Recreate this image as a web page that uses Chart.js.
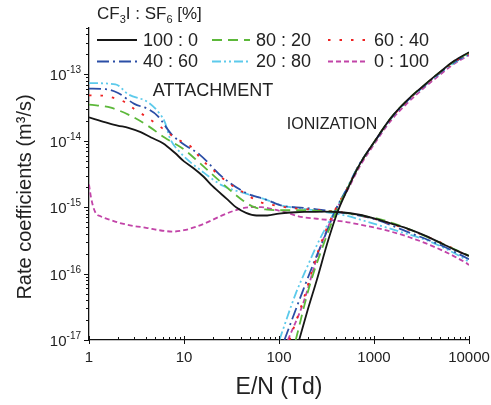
<!DOCTYPE html>
<html>
<head>
<meta charset="utf-8">
<script src="https://cdn.jsdelivr.net/npm/chart.js@4/dist/chart.umd.min.js"></script>
<style>
  html, body { margin: 0; padding: 0; background: #fff; }
  canvas { display: block; }
</style>
</head>
<body>
<canvas id="rateChart" width="491" height="405"></canvas>
<script>
// CF3I : SF6 mixtures, attachment and ionization rate coefficients (m3/s) vs E/N (Td)
const mixtures = ["100 : 0", "80 : 20", "60 : 40", "40 : 60", "20 : 80", "0 : 100"];

const attE100 = [1, 1.5, 2, 2.6, 3.5, 4.5, 6, 8, 10, 12.5, 16, 20, 28, 36, 45, 58, 75, 100, 150, 200, 300, 450, 700, 1000, 1500, 2400, 3500, 5000, 7000, 10000];
const attK100 = [2.25e-14, 1.9e-14, 1.7e-14, 1.57e-14, 1.35e-14, 1.12e-14, 9.2e-15, 6.6e-15, 4.9e-15, 3.9e-15, 2.9e-15, 2.07e-15, 1.35e-15, 9.8e-16, 8.2e-16, 7.5e-16, 7.5e-16, 8.0e-16, 8.4e-16, 8.5e-16, 8.6e-16, 8.4e-16, 7.7e-16, 6.8e-16, 5.7e-16, 4.6e-16, 3.7e-16, 2.9e-16, 2.3e-16, 1.85e-16];

const attE80 = [1, 1.7, 2.8, 4.2, 6.3, 10, 14, 19, 30, 42, 55, 75, 110, 180, 300, 450, 700, 1250, 2400, 5000, 10000];
const attK80 = [3.5e-14, 3.15e-14, 2.35e-14, 1.67e-14, 1.11e-14, 7.4e-15, 4.9e-15, 3.3e-15, 1.85e-15, 1.25e-15, 1.0e-15, 9.2e-16, 9.0e-16, 9.0e-16, 8.7e-16, 8.4e-16, 7.6e-16, 6.4e-16, 4.6e-16, 2.9e-16, 1.85e-16];

const attE60 = [1, 1.35, 1.9, 2.4, 3, 3.9, 5.8, 8, 12, 15, 20, 29, 40, 63, 90, 130, 270, 450, 1000, 2400, 4900, 10000];
const attK60 = [4.85e-14, 4.8e-14, 4.35e-14, 3.8e-14, 3.0e-14, 2.36e-14, 1.58e-14, 1.11e-14, 8.0e-15, 5.4e-15, 3.7e-15, 2.35e-15, 1.75e-15, 1.2e-15, 1.07e-15, 9.8e-16, 9.0e-16, 8.4e-16, 6.7e-16, 4.5e-16, 3.0e-16, 1.8e-16];

const attE40 = [1, 1.5, 2, 3, 4.2, 5.3, 7.4, 10, 14.6, 25.7, 45, 73, 110, 180, 250, 450, 700, 1050, 2400, 5000, 10000];
const attK40 = [6.1e-14, 6.0e-14, 5.3e-14, 3.6e-14, 3.0e-14, 2.36e-14, 1.25e-14, 8.8e-15, 6.2e-15, 2.8e-15, 1.64e-15, 1.3e-15, 1.05e-15, 9.8e-16, 9.3e-16, 8.3e-16, 7.5e-16, 6.5e-16, 4.1e-16, 2.7e-16, 1.65e-16];

const attE20 = [1, 1.9, 2.6, 4.2, 5.5, 6.3, 7.1, 9, 15.8, 25.7, 45, 73, 110, 180, 300, 500, 830, 1850, 3860, 7900, 10000];
const attK20 = [7.4e-14, 7.1e-14, 5.0e-14, 3.8e-14, 2.6e-14, 1.9e-14, 1.1e-14, 6.8e-15, 3.4e-15, 2.1e-15, 1.6e-15, 1.3e-15, 1.05e-15, 9.5e-16, 8.5e-16, 7.5e-16, 6.1e-16, 4.3e-16, 3.05e-16, 1.85e-16, 1.5e-16];

const attE0 = [1, 1.05, 1.15, 1.35, 1.65, 2.1, 3, 4, 5.5, 7.7, 10, 13.5, 18, 24, 35, 50, 65, 90, 120, 160, 250, 470, 700, 1250, 2400, 5000, 9300, 10000];
const attK0 = [2.2e-15, 1.4e-15, 8.7e-16, 7.2e-16, 6.5e-16, 5.8e-16, 5.2e-16, 4.9e-16, 4.5e-16, 4.3e-16, 4.5e-16, 5.1e-16, 6.0e-16, 7.3e-16, 9.0e-16, 1.0e-15, 1.0e-15, 9.2e-16, 8.3e-16, 7.3e-16, 6.7e-16, 6.1e-16, 5.5e-16, 4.6e-16, 3.5e-16, 2.3e-16, 1.45e-16, 1.35e-16];

const ionE100 = [163, 200, 250, 330, 420, 520, 700, 1000, 1500, 2200, 3500, 5000, 7000, 10000];
const ionK100 = [1.0e-17, 2.8e-17, 8.0e-17, 3.2e-16, 9.0e-16, 1.8e-15, 4.3e-15, 9.5e-15, 2.2e-14, 4.0e-14, 7.2e-14, 1.1e-13, 1.6e-13, 2.15e-13];

const ionE80 = [150, 209, 290, 400, 520, 700, 1000, 1500, 2200, 3500, 5000, 7000, 10000];
const ionK80 = [1.0e-17, 6.4e-17, 2.6e-16, 8.5e-16, 1.85e-15, 4.3e-15, 9.5e-15, 2.2e-14, 4.0e-14, 7.2e-14, 1.1e-13, 1.58e-13, 2.12e-13];

const ionE60 = [129, 180, 267, 380, 520, 700, 1000, 1500, 2200, 3500, 5000, 7000, 10000];
const ionK60 = [1.0e-17, 4.0e-17, 2.5e-16, 8.5e-16, 1.9e-15, 4.3e-15, 9.4e-15, 2.15e-14, 3.9e-14, 7.1e-14, 1.08e-13, 1.55e-13, 2.08e-13];

const ionE40 = [114, 180, 230, 300, 400, 520, 700, 1000, 1500, 2200, 3500, 5000, 7000, 10000];
const ionK40 = [1.0e-17, 5.7e-17, 1.4e-16, 3.5e-16, 9.5e-16, 1.9e-15, 4.4e-15, 9.4e-15, 2.15e-14, 3.9e-14, 7.0e-14, 1.07e-13, 1.52e-13, 2.05e-13];

const ionE20 = [101, 150, 200, 260, 400, 520, 700, 1000, 1500, 2200, 3500, 5000, 7000, 10000];
const ionK20 = [1.0e-17, 5.0e-17, 1.3e-16, 3.0e-16, 9.5e-16, 1.95e-15, 4.4e-15, 9.4e-15, 2.15e-14, 3.9e-14, 7.0e-14, 1.06e-13, 1.5e-13, 2.02e-13];

const ionE0 = [124, 180, 267, 380, 520, 700, 1000, 1500, 2200, 3500, 5000, 7000, 10000];
const ionK0 = [1.0e-17, 3.6e-17, 2.3e-16, 8.0e-16, 1.75e-15, 4.0e-15, 8.8e-15, 2.0e-14, 3.6e-14, 6.6e-14, 1.0e-13, 1.45e-13, 1.95e-13];

const xTickValues = [1, 10, 100, 1000, 10000];
const yTickExponents = [-17, -16, -15, -14, -13];

const attachment = [[attE100, attK100], [attE80, attK80], [attE60, attK60], [attE40, attK40], [attE20, attK20], [attE0, attK0]];
const ionization = [[ionE100, ionK100], [ionE80, ionK80], [ionE60, ionK60], [ionE40, ionK40], [ionE20, ionK20], [ionE0, ionK0]];

const colors = ["#161616", "#5cb83a", "#ee2222", "#2b4ea6", "#5ccaeb", "#c244a8"];
const dashes = [[], [10, 6], [2.5, 9], [12, 4, 2, 4], [9, 3, 2, 3, 2, 3], [5, 3]];
const FONT = "'Liberation Sans', Arial, sans-serif";
const TEXT = "#222";

function points(xs, ys) {
    return xs.map(function (v, i) {
        return { x: v, y: ys[i] };
    });
}

const datasets = [];
mixtures.forEach(function (name, i) {
    const style = {
        borderColor: colors[i],
        borderDash: dashes[i],
        borderWidth: 1.8,
        pointRadius: 0,
        fill: false,
        cubicInterpolationMode: "monotone",
    };
    datasets.push(Object.assign({ label: name, data: points(attachment[i][0], attachment[i][1]) }, style));
    datasets.push(Object.assign({ label: name + " (ionization)", data: points(ionization[i][0], ionization[i][1]) }, style));
});

// ticks, tick labels, axis titles, annotations and the legend
const decorations = {
    id: "decorations",
    afterDraw(chart) {
        const ctx = chart.ctx;
        const xs = chart.scales.x;
        const ys = chart.scales.y;
        const area = chart.chartArea;
        ctx.save();
        ctx.strokeStyle = "#111";
        ctx.lineWidth = 1;
        ctx.setLineDash([]);

        for (let e = 0; e <= 4; e++) {
            for (let m = 1; m <= 9; m++) {
                const v = m * Math.pow(10, e);
                if (v > 10000) break;
                const px = Math.round(xs.getPixelForValue(v)) + 0.5;
                ctx.beginPath();
                ctx.moveTo(px, area.bottom + (m === 1 ? 4 : 0));
                ctx.lineTo(px, area.bottom - (m === 1 ? 4 : 3));
                ctx.stroke();
            }
        }
        for (let e = -17; e <= -13; e++) {
            for (let m = 1; m <= 9; m++) {
                const v = m * Math.pow(10, e);
                if (v > ys.max * 1.0001) break;
                const py = Math.round(ys.getPixelForValue(v)) + 0.5;
                ctx.beginPath();
                ctx.moveTo(area.left, py);
                ctx.lineTo(area.left - (m === 1 ? 5 : 3), py);
                ctx.stroke();
            }
        }

        ctx.fillStyle = TEXT;
        ctx.textBaseline = "middle";
        ctx.textAlign = "center";
        ctx.font = "15px " + FONT;
        xTickValues.forEach(function (v) {
            ctx.fillText(String(v), xs.getPixelForValue(v), area.bottom + 18);
        });

        ctx.textBaseline = "alphabetic";
        yTickExponents.forEach(function (e) {
            const py = ys.getPixelForValue(Math.pow(10, e));
            const exp = String(e);
            ctx.font = "10px " + FONT;
            const w = ctx.measureText(exp).width;
            const right = area.left - 8;
            ctx.textAlign = "left";
            ctx.fillText(exp, right - w, py - 1);
            ctx.font = "15px " + FONT;
            ctx.textAlign = "right";
            ctx.fillText("10", right - w, py + 6);
        });

        ctx.textAlign = "center";
        ctx.textBaseline = "middle";
        ctx.font = "23px " + FONT;
        ctx.fillText("E/N (Td)", (area.left + area.right) / 2, 388);

        ctx.save();
        ctx.translate(25, 197);
        ctx.rotate(-Math.PI / 2);
        ctx.font = "20px " + FONT;
        ctx.fillText("Rate coefficients (m\u00B3/s)", 0, 0);
        ctx.restore();

        ctx.textAlign = "left";
        ctx.font = "18px " + FONT;
        ctx.fillText("ATTACHMENT", xs.getPixelForValue(4.7), ys.getPixelForValue(5.6e-14));
        ctx.font = "16px " + FONT;
        ctx.fillText("IONIZATION", xs.getPixelForValue(121), ys.getPixelForValue(1.77e-14));

        // legend title with subscripts
        ctx.textBaseline = "alphabetic";
        let tx = 97;
        [["CF", false], ["3", true], ["I : SF", false], ["6", true], [" [%]", false]].forEach(function (run) {
            ctx.font = (run[1] ? "11px " : "17px ") + FONT;
            ctx.fillText(run[0], tx, 19 + (run[1] ? 4 : 0));
            tx += ctx.measureText(run[0]).width;
        });

        const colX = [97, 212, 328];
        const rowY = [40, 61.5];
        const lineLen = [40, 38, 40];
        ctx.font = "18px " + FONT;
        ctx.textBaseline = "middle";
        mixtures.forEach(function (name, i) {
            const c = i % 3;
            const r = Math.floor(i / 3);
            const y = rowY[r];
            ctx.strokeStyle = colors[i];
            ctx.lineWidth = 1.8;
            ctx.setLineDash(dashes[i]);
            ctx.beginPath();
            ctx.moveTo(colX[c], y);
            ctx.lineTo(colX[c] + lineLen[c], y);
            ctx.stroke();
            ctx.setLineDash([]);
            ctx.fillStyle = TEXT;
            ctx.fillText(name, colX[c] + lineLen[c] + 6, y + 1);
        });
        ctx.restore();
    },
};

const ctx = document.getElementById("rateChart").getContext("2d");

new Chart(ctx, {
    type: "line",
    data: { datasets: datasets },
    options: {
        responsive: false,
        animation: false,
        layout: { padding: { left: 89, right: 22, top: 28, bottom: 65 } },
        plugins: {
            legend: { display: false },
            tooltip: { enabled: false },
        },
        scales: {
            x: {
                type: "logarithmic",
                min: 1,
                max: 10000,
                grid: { display: false, drawTicks: false },
                ticks: { display: false },
                border: { display: true, color: "#111", width: 1.3 },
            },
            y: {
                type: "logarithmic",
                min: 1e-17,
                max: 5e-13,
                grid: { display: false, drawTicks: false },
                ticks: { display: false },
                border: { display: true, color: "#111", width: 1.3 },
            },
        },
    },
    plugins: [decorations],
});
</script>
</body>
</html>
